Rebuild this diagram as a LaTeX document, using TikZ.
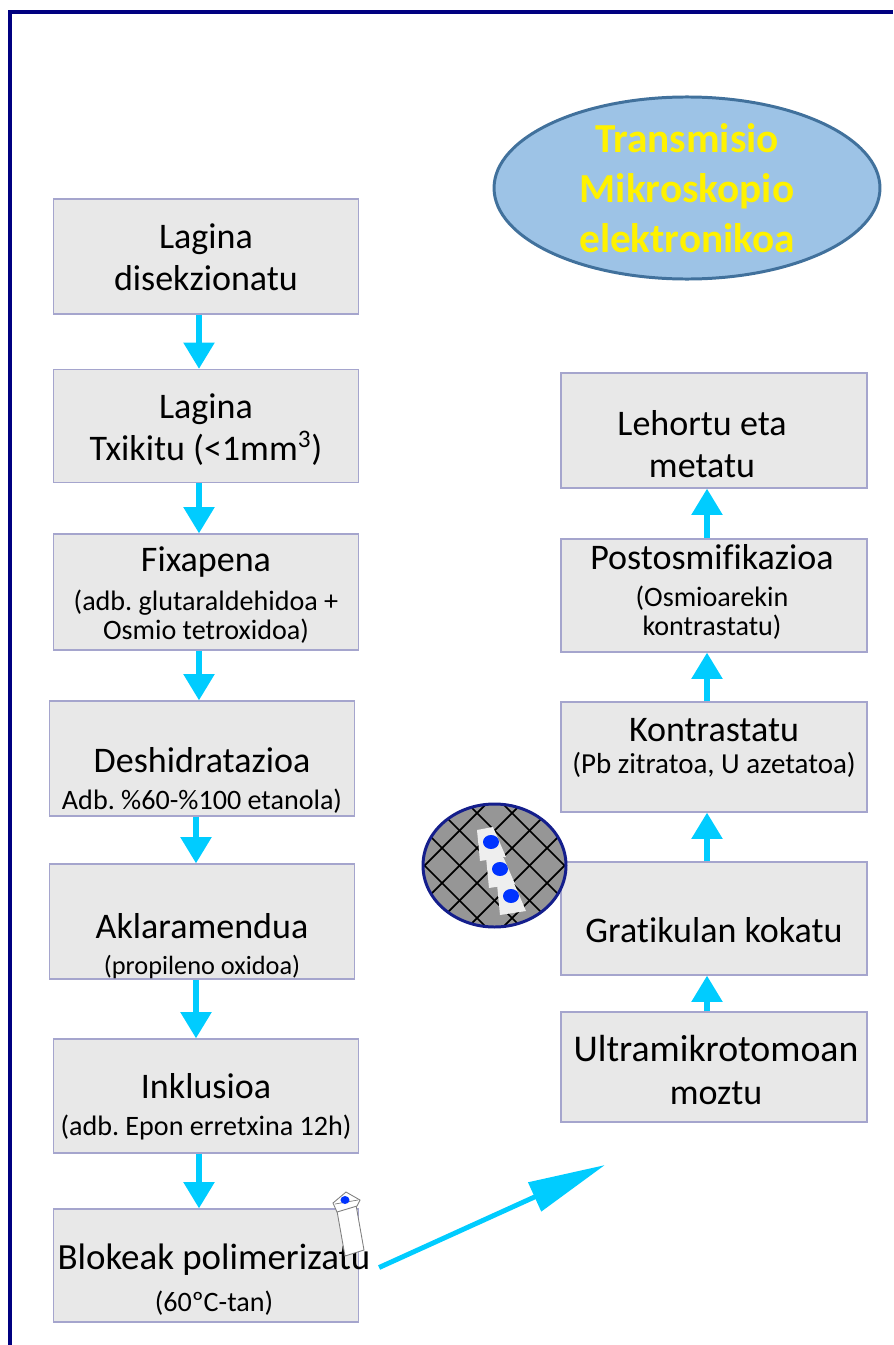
\documentclass[tikz,border=0pt]{standalone}
\usepackage{fontspec}
\setmainfont[Ligatures=NoCommon]{Carlito}
\usetikzlibrary{arrows.meta,shapes.geometric}
\frenchspacing

\definecolor{fleche}{RGB}{0,204,255}
\definecolor{boitefond}{RGB}{232,232,232}
\definecolor{boitebord}{RGB}{165,165,205}
\definecolor{cadre}{RGB}{0,0,128}
\definecolor{ovalefond}{RGB}{157,195,230}
\definecolor{ovalebord}{RGB}{65,113,156}
\definecolor{grille}{RGB}{150,150,150}
\definecolor{bordgrille}{RGB}{20,30,140}
\definecolor{coupe}{RGB}{238,238,238}
\definecolor{point}{RGB}{0,51,255}

\newcommand{\titre}{\fontsize{20.5}{24}\selectfont}
\newcommand{\sous}{\fontsize{16}{17}\selectfont}

\begin{document}
\begin{tikzpicture}[x=0.02cm, y=-0.02cm,
    etape/.style={draw=boitebord, fill=boitefond, line width=0.7pt,
      minimum width=6.1cm, minimum height=2.3cm, inner sep=0pt},
    texte/.style={align=center, font=\titre, inner sep=0pt},
    flux/.style={draw=fleche, line width=3.4pt, -{Triangle[width=17pt,length=15pt]}},
    grandflux/.style={draw=fleche, line width=2.8pt, -{Triangle[width=17.5pt,length=44pt]}}]
  \useasboundingbox (0,0) rectangle (893,1345);
  % Cadre
  \draw[cadre, line width=2.3pt] (10,1345) -- (10,12) -- (893,12);

  % Titre
  \node[ellipse, draw=ovalebord, line width=1.7pt, fill=ovalefond,
    minimum width=7.72cm, minimum height=3.14cm, inner sep=0pt,
    align=center, text=yellow, font=\fontsize{23.5}{28.3}\selectfont\bfseries]
    (titre) at (687,188) {Transmisio\\Mikroskopio\\elektronikoa};

  % Colonne de gauche
  \node[etape] (lag1) at (206,256.5) {};
  \node[texte] (tlag1) at (206,257) {Lagina\\disekzionatu};
  \node[etape, minimum height=2.26cm] (lag2) at (206,426) {};
  \node[texte] (tlag2) at (206,430) {Lagina\\Txikitu (<1mm\textsuperscript{3})};
  \node[etape, minimum height=2.32cm] (fix) at (206,592) {};
  \node[texte] (tfix) at (206,595) {Fixapena\\[-2pt]{\sous (adb. glutaraldehidoa +}\\[-7.6pt]{\sous Osmio tetroxidoa)}};
  \node[etape] (desh) at (202,758.5) {};
  \node[texte] (tdesh) at (202,780) {Deshidratazioa\\[-3pt]{\sous Adb. \%60-\%100 etanola)}};
  \node[etape] (aklar) at (202,921.5) {};
  \node[texte] (taklar) at (202,946) {Aklaramendua\\[-3.6pt]{\fontsize{15}{16}\selectfont (propileno oxidoa)}};
  \node[etape, minimum height=2.28cm] (inkl) at (206,1096) {};
  \node[texte] (tinkl) at (206,1107) {Inklusioa\\[-3pt]{\sous (adb. Epon erretxina 12h)}};
  \node[etape, minimum height=2.26cm] (blok) at (206,1265.5) {};
  \node[texte] (tblok) at (214,1280) {{\fontsize{21}{24}\selectfont Blokeak polimerizatu}\\{\sous (60ºC-tan)}};

  % Colonne de droite
  \node[etape, minimum width=6.12cm] (leh) at (714,430.5) {};
  \node[texte] (tleh) at (702,444) {Lehortu eta\\metatu};
  \node[etape, minimum width=6.12cm, minimum height=2.26cm] (post) at (714,595.5) {};
  \node[texte] (tpost) at (712,592) {Postosmifikazioa\\[-3pt]{\sous (Osmioarekin}\\[-7.6pt]{\sous kontrastatu)}};
  \node[etape, minimum width=6.12cm, minimum height=2.2cm] (kontr) at (714,757) {};
  \node[texte] (tkontr) at (714,748) {Kontrastatu\\[-6pt]{\fontsize{16.5}{17}\selectfont (Pb zitratoa, U azetatoa)}};
  \node[etape, minimum width=6.12cm, minimum height=2.26cm] (grat) at (714,918.5) {};
  \node[texte] (tgrat) at (714,930) {Gratikulan kokatu};
  \node[etape, minimum width=6.12cm, minimum height=2.2cm] (ultra) at (714,1067) {};
  \node[texte] (tultra) at (716,1070) {{\fontsize{21.5}{24}\selectfont Ultramikrotomoan}\\moztu};

  % Fleches
  \foreach \a/\b/\dx in {lag1/lag2/-7, lag2/fix/-7, fix/desh/-7, desh/aklar/-6, aklar/inkl/-6, inkl/blok/-7}
    \draw[flux] (\a.south) ++(\dx,0) coordinate (p) -- (p |- \b.north);
  \foreach \a/\b in {ultra/grat, grat/kontr, kontr/post, post/leh}
    \draw[flux] (\a.north) ++(-7,0) coordinate (p) -- (p |- \b.south);
  \coordinate (cible) at (605,1165);
  \draw[grandflux] (blok.east) ++(20,2) coordinate (depart) -- (cible);

  % Bloc de resine
  \draw[gray, fill=white, line width=0.5pt] (337,1211) -- (356,1205) -- (364,1250) -- (345,1256) -- cycle;
  \draw[gray, fill=white, line width=0.5pt] (333,1203) -- (346,1192) -- (360,1200) -- (357,1206) -- (337,1212) -- cycle;
  \draw[gray, line width=0.4pt] (335,1204) -- (358,1200);
  \fill[point] (345,1200) ellipse [x radius=4.5, y radius=4];

  % Gratikula
  \fill[grille] (494.5,865.5) ellipse [x radius=71.5, y radius=61.5];
  \begin{scope}
    \clip (494.5,865.5) ellipse [x radius=71.5, y radius=61.5];
    \foreach \c in {266,301,336,371,406,441,476}
      \draw[black, line width=1pt] (410,{410+\c}) -- (580,{580+\c});
    \foreach \c in {1255,1290,1325,1360,1395,1430,1465}
      \draw[black, line width=1pt] (410,{\c-410}) -- (580,{\c-580});
  \end{scope}
  \foreach \dx/\dy in {0/0, 9/27, 20/54} {
    \begin{scope}[shift={(\dx,\dy)}]
      \fill[coupe] (477,830) -- (493,827) -- (506,857) -- (480,861) -- cycle;
      \fill[point] (491,842) ellipse [x radius=8, y radius=7];
    \end{scope}
  }
  \draw[bordgrille, line width=1.7pt] (494.5,865.5) ellipse [x radius=71.5, y radius=61.5];
\end{tikzpicture}
\end{document}
